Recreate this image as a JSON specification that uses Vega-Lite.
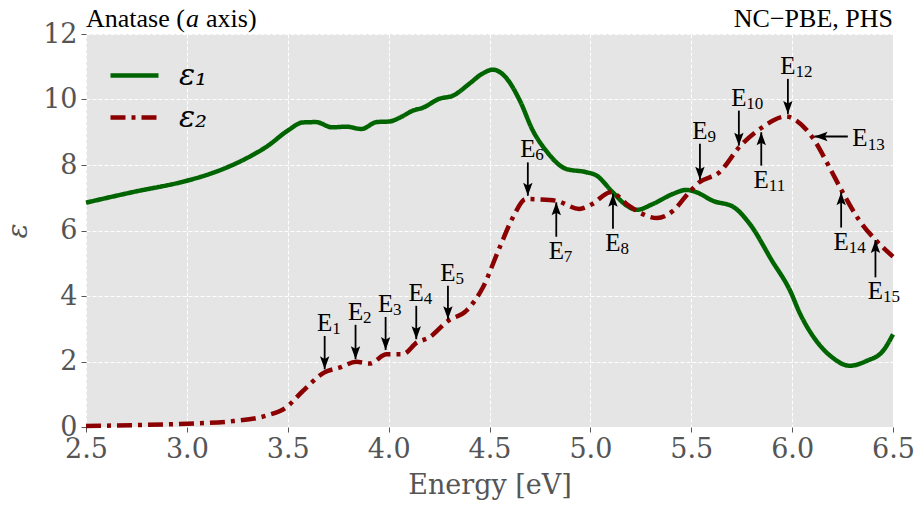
{
  "$schema": "https://vega.github.io/schema/vega-lite/v6.json",
  "width": 807,
  "height": 393,
  "autosize": {"type": "none"},
  "padding": {"left": 86, "top": 34, "right": 27, "bottom": 79},
  "background": "white",
  "config": {
    "view": {"fill": "#E5E5E5", "stroke": null},
    "axis": {
      "domain": false,
      "grid": true,
      "gridColor": "white",
      "gridDash": [4, 2],
      "gridWidth": 1,
      "gridOpacity": 1,
      "tickColor": "#555555",
      "tickSize": 5,
      "labelFlush": false,
      "labelFont": "DejaVu Serif",
      "labelFontSize": 27,
      "labelColor": "#555555",
      "titleFont": "DejaVu Serif",
      "titleFontSize": 27,
      "titleFontWeight": "normal",
      "titleColor": "#555555"
    }
  },
  "datasets": {
    "curves": [
      {"E": 2.50, "v": 6.85, "s": "ε₁"},
      {"E": 2.73, "v": 7.17, "s": "ε₁"},
      {"E": 3.00, "v": 7.52, "s": "ε₁"},
      {"E": 3.10, "v": 7.70, "s": "ε₁"},
      {"E": 3.20, "v": 7.93, "s": "ε₁"},
      {"E": 3.30, "v": 8.22, "s": "ε₁"},
      {"E": 3.40, "v": 8.58, "s": "ε₁"},
      {"E": 3.50, "v": 9.05, "s": "ε₁"},
      {"E": 3.575, "v": 9.30, "s": "ε₁"},
      {"E": 3.64, "v": 9.31, "s": "ε₁"},
      {"E": 3.72, "v": 9.15, "s": "ε₁"},
      {"E": 3.79, "v": 9.17, "s": "ε₁"},
      {"E": 3.865, "v": 9.10, "s": "ε₁"},
      {"E": 3.94, "v": 9.31, "s": "ε₁"},
      {"E": 4.005, "v": 9.33, "s": "ε₁"},
      {"E": 4.06, "v": 9.46, "s": "ε₁"},
      {"E": 4.12, "v": 9.66, "s": "ε₁"},
      {"E": 4.17, "v": 9.75, "s": "ε₁"},
      {"E": 4.25, "v": 10.02, "s": "ε₁"},
      {"E": 4.32, "v": 10.12, "s": "ε₁"},
      {"E": 4.40, "v": 10.48, "s": "ε₁"},
      {"E": 4.46, "v": 10.77, "s": "ε₁"},
      {"E": 4.517, "v": 10.91, "s": "ε₁"},
      {"E": 4.58, "v": 10.68, "s": "ε₁"},
      {"E": 4.65, "v": 9.97, "s": "ε₁"},
      {"E": 4.715, "v": 9.05, "s": "ε₁"},
      {"E": 4.78, "v": 8.44, "s": "ε₁"},
      {"E": 4.88, "v": 7.88, "s": "ε₁"},
      {"E": 4.98, "v": 7.78, "s": "ε₁"},
      {"E": 5.03, "v": 7.68, "s": "ε₁"},
      {"E": 5.11, "v": 7.17, "s": "ε₁"},
      {"E": 5.18, "v": 6.76, "s": "ε₁"},
      {"E": 5.23, "v": 6.63, "s": "ε₁"},
      {"E": 5.31, "v": 6.81, "s": "ε₁"},
      {"E": 5.41, "v": 7.12, "s": "ε₁"},
      {"E": 5.475, "v": 7.24, "s": "ε₁"},
      {"E": 5.525, "v": 7.17, "s": "ε₁"},
      {"E": 5.61, "v": 6.90, "s": "ε₁"},
      {"E": 5.706, "v": 6.73, "s": "ε₁"},
      {"E": 5.79, "v": 6.20, "s": "ε₁"},
      {"E": 5.90, "v": 5.08, "s": "ε₁"},
      {"E": 5.99, "v": 4.16, "s": "ε₁"},
      {"E": 6.04, "v": 3.45, "s": "ε₁"},
      {"E": 6.12, "v": 2.63, "s": "ε₁"},
      {"E": 6.20, "v": 2.12, "s": "ε₁"},
      {"E": 6.285, "v": 1.87, "s": "ε₁"},
      {"E": 6.37, "v": 2.02, "s": "ε₁"},
      {"E": 6.45, "v": 2.32, "s": "ε₁"},
      {"E": 6.50, "v": 2.83, "s": "ε₁"},
      {"E": 2.50, "v": 0.03, "s": "ε₂"},
      {"E": 2.75, "v": 0.06, "s": "ε₂"},
      {"E": 3.00, "v": 0.10, "s": "ε₂"},
      {"E": 3.23, "v": 0.18, "s": "ε₂"},
      {"E": 3.39, "v": 0.34, "s": "ε₂"},
      {"E": 3.49, "v": 0.59, "s": "ε₂"},
      {"E": 3.575, "v": 1.10, "s": "ε₂"},
      {"E": 3.68, "v": 1.66, "s": "ε₂"},
      {"E": 3.76, "v": 1.82, "s": "ε₂"},
      {"E": 3.84, "v": 1.99, "s": "ε₂"},
      {"E": 3.906, "v": 1.94, "s": "ε₂"},
      {"E": 3.99, "v": 2.22, "s": "ε₂"},
      {"E": 4.07, "v": 2.22, "s": "ε₂"},
      {"E": 4.14, "v": 2.58, "s": "ε₂"},
      {"E": 4.20, "v": 2.73, "s": "ε₂"},
      {"E": 4.294, "v": 3.24, "s": "ε₂"},
      {"E": 4.385, "v": 3.55, "s": "ε₂"},
      {"E": 4.467, "v": 4.26, "s": "ε₂"},
      {"E": 4.55, "v": 5.48, "s": "ε₂"},
      {"E": 4.616, "v": 6.40, "s": "ε₂"},
      {"E": 4.68, "v": 6.96, "s": "ε₂"},
      {"E": 4.75, "v": 6.95, "s": "ε₂"},
      {"E": 4.83, "v": 6.91, "s": "ε₂"},
      {"E": 4.946, "v": 6.66, "s": "ε₂"},
      {"E": 5.01, "v": 6.81, "s": "ε₂"},
      {"E": 5.10, "v": 7.17, "s": "ε₂"},
      {"E": 5.19, "v": 6.76, "s": "ε₂"},
      {"E": 5.26, "v": 6.50, "s": "ε₂"},
      {"E": 5.33, "v": 6.38, "s": "ε₂"},
      {"E": 5.41, "v": 6.60, "s": "ε₂"},
      {"E": 5.49, "v": 7.17, "s": "ε₂"},
      {"E": 5.54, "v": 7.47, "s": "ε₂"},
      {"E": 5.64, "v": 7.78, "s": "ε₂"},
      {"E": 5.74, "v": 8.56, "s": "ε₂"},
      {"E": 5.847, "v": 9.13, "s": "ε₂"},
      {"E": 5.97, "v": 9.48, "s": "ε₂"},
      {"E": 6.02, "v": 9.36, "s": "ε₂"},
      {"E": 6.10, "v": 8.85, "s": "ε₂"},
      {"E": 6.185, "v": 7.93, "s": "ε₂"},
      {"E": 6.25, "v": 7.17, "s": "ε₂"},
      {"E": 6.334, "v": 6.30, "s": "ε₂"},
      {"E": 6.417, "v": 5.69, "s": "ε₂"},
      {"E": 6.50, "v": 5.20, "s": "ε₂"}
    ],
    "arrows": [
      {"n": "1", "xt": 3.683, "yt": 1.76, "xs": 3.683, "ys": 2.78, "dir": "down"},
      {"n": "2", "xt": 3.836, "yt": 2.07, "xs": 3.836, "ys": 3.12, "dir": "down"},
      {"n": "3", "xt": 3.985, "yt": 2.35, "xs": 3.985, "ys": 3.36, "dir": "down"},
      {"n": "4", "xt": 4.137, "yt": 2.68, "xs": 4.137, "ys": 3.70, "dir": "down"},
      {"n": "5", "xt": 4.294, "yt": 3.29, "xs": 4.294, "ys": 4.31, "dir": "down"},
      {"n": "6", "xt": 4.69, "yt": 7.06, "xs": 4.69, "ys": 8.08, "dir": "down"},
      {"n": "7", "xt": 4.831, "yt": 6.86, "xs": 4.831, "ys": 5.81, "dir": "up"},
      {"n": "8", "xt": 5.112, "yt": 7.12, "xs": 5.112, "ys": 6.05, "dir": "up"},
      {"n": "9", "xt": 5.543, "yt": 7.55, "xs": 5.543, "ys": 8.65, "dir": "down"},
      {"n": "10", "xt": 5.736, "yt": 8.59, "xs": 5.736, "ys": 9.66, "dir": "down"},
      {"n": "11", "xt": 5.847, "yt": 9.00, "xs": 5.847, "ys": 7.98, "dir": "up"},
      {"n": "12", "xt": 5.979, "yt": 9.56, "xs": 5.979, "ys": 10.63, "dir": "down"},
      {"n": "13", "xt": 6.111, "yt": 8.87, "xs": 6.276, "ys": 8.87, "dir": "left"},
      {"n": "14", "xt": 6.243, "yt": 7.17, "xs": 6.243, "ys": 6.09, "dir": "up"},
      {"n": "15", "xt": 6.413, "yt": 5.71, "xs": 6.413, "ys": 4.57, "dir": "up"}
    ]
  },
  "layer": [
    {
      "data": {"name": "curves"},
      "mark": {"type": "line", "strokeWidth": 4.5, "interpolate": "monotone"},
      "encoding": {
        "x": {
          "field": "E", "type": "quantitative", "title": "Energy [eV]",
          "scale": {"domain": [2.5, 6.5], "nice": false, "zero": false},
          "axis": {"values": [2.5, 3, 3.5, 4, 4.5, 5, 5.5, 6, 6.5], "format": ".1f", "labelPadding": 4, "titlePadding": 10}
        },
        "y": {
          "field": "v", "type": "quantitative", "title": "ε",
          "scale": {"domain": [0, 12], "nice": false},
          "axis": {"values": [0, 2, 4, 6, 8, 10, 12], "labelPadding": 4, "titlePadding": 10, "titleFontStyle": "italic", "titleFontSize": 28}
        },
        "color": {
          "field": "s", "type": "nominal",
          "scale": {"domain": ["ε₁", "ε₂"], "range": ["#006400", "#8B0000"]},
          "legend": {
            "title": null, "orient": "none", "legendX": 22, "legendY": 15,
            "symbolType": "stroke", "symbolSize": 2304, "symbolStrokeWidth": 4.5,
            "labelFont": "DejaVu Serif", "labelFontStyle": "italic", "labelFontSize": 30,
            "labelColor": "black", "labelOffset": 18, "rowPadding": 0
          }
        },
        "strokeDash": {
          "field": "s", "type": "nominal",
          "scale": {"domain": ["ε₁", "ε₂"], "range": [[1, 0], [15, 6, 4, 6]]},
          "legend": {
            "title": null, "orient": "none", "legendX": 22, "legendY": 15,
            "symbolType": "stroke", "symbolSize": 2304, "symbolStrokeWidth": 4.5,
            "labelFont": "DejaVu Serif", "labelFontStyle": "italic", "labelFontSize": 30,
            "labelColor": "black", "labelOffset": 18, "rowPadding": 0
          }
        }
      }
    },
    {
      "data": {"name": "arrows"},
      "mark": {"type": "rule", "color": "black", "strokeWidth": 1.8},
      "encoding": {
        "x": {"field": "xs", "type": "quantitative", "title": "Energy [eV]"},
        "y": {"field": "ys", "type": "quantitative", "title": "ε"},
        "x2": {"field": "xt"},
        "y2": {"field": "yt"}
      }
    },
    {
      "data": {"name": "arrows"},
      "mark": {"type": "point", "filled": true, "color": "black", "opacity": 1, "strokeWidth": 0},
      "encoding": {
        "x": {"field": "xt", "type": "quantitative", "title": "Energy [eV]"},
        "y": {"field": "yt", "type": "quantitative", "title": "ε"},
        "shape": {
          "field": "dir", "type": "nominal", "legend": null,
          "scale": {"domain": ["down", "up", "left"], "range": ["M0,0L-0.36,-1L0,-0.8L0.36,-1Z", "M0,0L-0.36,1L0,0.8L0.36,1Z", "M0,0L1,-0.36L0.8,0L1,0.36Z"]}
        },
        "size": {"value": 676}
      }
    },
    {
      "data": {"name": "arrows"},
      "transform": [{"filter": "datum.dir === 'down'"}],
      "mark": {"type": "text", "font": "Liberation Serif", "fontSize": 25, "align": "center", "baseline": "alphabetic", "dy": -5, "color": "black"},
      "encoding": {
        "x": {"field": "xs", "type": "quantitative", "title": "Energy [eV]"},
        "y": {"field": "ys", "type": "quantitative", "title": "ε"},
        "text": {"value": "E"}
      }
    },
    {
      "data": {"name": "arrows"},
      "transform": [{"filter": "datum.dir === 'down'"}],
      "mark": {"type": "text", "font": "Liberation Serif", "fontSize": 17, "align": "left", "baseline": "alphabetic", "dx": 7.5, "dy": -2, "color": "black"},
      "encoding": {
        "x": {"field": "xs", "type": "quantitative", "title": "Energy [eV]"},
        "y": {"field": "ys", "type": "quantitative", "title": "ε"},
        "text": {"field": "n"}
      }
    },
    {
      "data": {"name": "arrows"},
      "transform": [{"filter": "datum.dir === 'up'"}],
      "mark": {"type": "text", "font": "Liberation Serif", "fontSize": 25, "align": "center", "baseline": "alphabetic", "dy": 22, "color": "black"},
      "encoding": {
        "x": {"field": "xs", "type": "quantitative", "title": "Energy [eV]"},
        "y": {"field": "ys", "type": "quantitative", "title": "ε"},
        "text": {"value": "E"}
      }
    },
    {
      "data": {"name": "arrows"},
      "transform": [{"filter": "datum.dir === 'up'"}],
      "mark": {"type": "text", "font": "Liberation Serif", "fontSize": 17, "align": "left", "baseline": "alphabetic", "dx": 7.5, "dy": 25, "color": "black"},
      "encoding": {
        "x": {"field": "xs", "type": "quantitative", "title": "Energy [eV]"},
        "y": {"field": "ys", "type": "quantitative", "title": "ε"},
        "text": {"field": "n"}
      }
    },
    {
      "data": {"name": "arrows"},
      "transform": [{"filter": "datum.dir === 'left'"}],
      "mark": {"type": "text", "font": "Liberation Serif", "fontSize": 25, "align": "left", "baseline": "alphabetic", "dx": 4.5, "dy": 9.5, "color": "black"},
      "encoding": {
        "x": {"field": "xs", "type": "quantitative", "title": "Energy [eV]"},
        "y": {"field": "ys", "type": "quantitative", "title": "ε"},
        "text": {"value": "E"}
      }
    },
    {
      "data": {"name": "arrows"},
      "transform": [{"filter": "datum.dir === 'left'"}],
      "mark": {"type": "text", "font": "Liberation Serif", "fontSize": 17, "align": "left", "baseline": "alphabetic", "dx": 20, "dy": 13, "color": "black"},
      "encoding": {
        "x": {"field": "xs", "type": "quantitative", "title": "Energy [eV]"},
        "y": {"field": "ys", "type": "quantitative", "title": "ε"},
        "text": {"field": "n"}
      }
    },
    {
      "data": {"values": [{"t": "Anatase ("}]},
      "mark": {"type": "text", "font": "Liberation Serif", "fontSize": 26, "align": "left", "baseline": "alphabetic", "dy": -7, "color": "black"},
      "encoding": {
        "x": {"datum": 2.5, "type": "quantitative"},
        "y": {"datum": 12, "type": "quantitative"},
        "text": {"field": "t"}
      }
    },
    {
      "data": {"values": [{"t": "a"}]},
      "mark": {"type": "text", "font": "Liberation Serif", "fontStyle": "italic", "fontSize": 26, "align": "left", "baseline": "alphabetic", "dx": 100, "dy": -7, "color": "black"},
      "encoding": {
        "x": {"datum": 2.5, "type": "quantitative"},
        "y": {"datum": 12, "type": "quantitative"},
        "text": {"field": "t"}
      }
    },
    {
      "data": {"values": [{"t": "axis)"}]},
      "mark": {"type": "text", "font": "Liberation Serif", "fontSize": 26, "align": "left", "baseline": "alphabetic", "dx": 120, "dy": -7, "color": "black"},
      "encoding": {
        "x": {"datum": 2.5, "type": "quantitative"},
        "y": {"datum": 12, "type": "quantitative"},
        "text": {"field": "t"}
      }
    },
    {
      "data": {"values": [{"t": "NC−PBE, PHS"}]},
      "mark": {"type": "text", "font": "Liberation Serif", "fontSize": 26, "align": "right", "baseline": "alphabetic", "dy": -7, "color": "black"},
      "encoding": {
        "x": {"datum": 6.5, "type": "quantitative"},
        "y": {"datum": 12, "type": "quantitative"},
        "text": {"field": "t"}
      }
    }
  ]
}
